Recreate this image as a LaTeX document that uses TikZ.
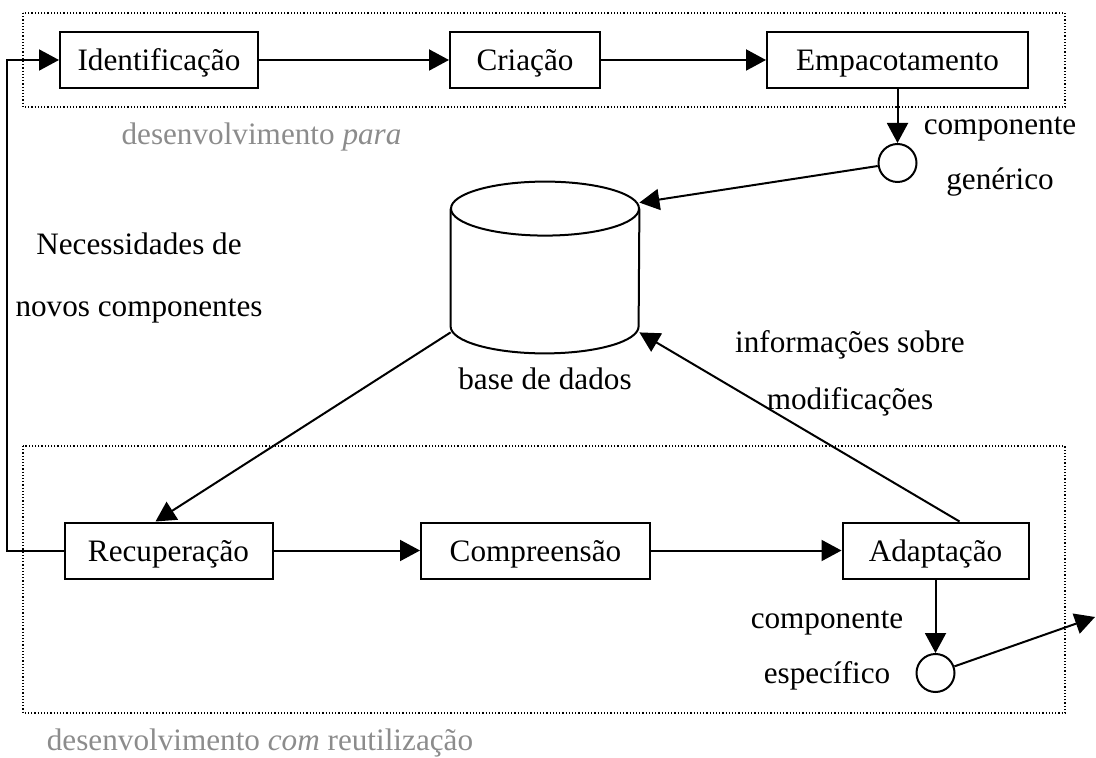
\documentclass[tikz,border=0pt]{standalone}
\usepackage{fontspec}
\setmainfont{Liberation Serif}
\usetikzlibrary{arrows.meta}

\begin{document}
\begin{tikzpicture}[x=0.5pt, y=-0.5pt,
        every node/.style={font=\fontsize{15.6pt}{18pt}\selectfont},
        box/.style={rectangle, draw, line width=1pt, minimum height=28pt, text height=10.5pt, text depth=0pt, inner sep=0pt},
        port/.style={circle, draw, line width=1pt, minimum size=19pt, inner sep=0pt},
        arrow/.style={-{Triangle[length=10pt,width=10.5pt]}, line width=1pt},
        frame/.style={densely dotted, line width=0.6pt},
        note/.style={anchor=base, inner sep=0pt},
        phase/.style={anchor=base, inner sep=0pt, text=gray!90}
    ]
        \useasboundingbox (0,0) rectangle (1096,758);

        % phases
        \draw[frame] (23,13) rectangle (1065,107);
        \draw[frame] (23,446) rectangle (1065,713);
        \node[phase] (para) at (261.5,145) {desenvolvimento \textit{para}};
        \node[phase] (com) at (260,750) {desenvolvimento \textit{com} reutilização};

        \node[box, minimum width=99pt] (ident) at (159,60) {Identificação};
        \node[box, minimum width=75pt] (criacao) at (525,60) {Criação};
        \node[box, minimum width=130.5pt] (empac) at (897.5,60) {Empacotamento};

        \node[box, minimum width=104pt] (recup) at (168.5,550.5) {Recuperação};
        \node[box, minimum width=114.5pt] (compr) at (535.5,550.5) {Compreensão};
        \node[box, minimum width=93pt] (adapt) at (935.5,550.5) {Adaptação};

        \node[port] (gen) at (897.5,163) {};
        \node[port] (esp) at (935.5,673) {};
        \coordinate (out) at (1095,617);

        % base de dados
        \node[minimum width=94pt, minimum height=58.5pt, inner sep=0pt] (db) at (545,267.5) {};
        \draw[line width=1pt, fill=white] (db.north west) -- (db.south west)
            arc[start angle=180, end angle=360, x radius=47pt, y radius=13.5pt] -- (db.north east);
        \draw[line width=1pt] (db.north) ellipse[x radius=47pt, y radius=13.5pt];
        \node[note] (dblabel) at (545,390) {base de dados};

        \node[note] (gen1) at (1000,135) {componente};
        \node[note] (gen2) at (1000,190) {genérico};
        \node[note] (esp1) at (827,628) {componente};
        \node[note] (esp2) at (827,683) {específico};
        \node[note] (need1) at (139,255) {Necessidades de};
        \node[note] (need2) at (139,317) {novos componentes};
        \node[note] (info1) at (850,353) {informações sobre};
        \node[note] (info2) at (850,410) {modificações};

        \draw[arrow] (ident) -- (criacao);
        \draw[arrow] (criacao) -- (empac);
        \draw[arrow] (empac) -- (gen);
        \draw[arrow] (gen) -- ([yshift=3pt]db.north east);
        \draw[arrow] ([yshift=-3pt]db.south west) -- ([xshift=-6.5pt]recup.north);
        \draw[arrow] (recup) -- (compr);
        \draw[arrow] (compr) -- (adapt);
        \draw[arrow] (adapt) -- (esp);
        \draw[arrow] (esp) -- (out);
        \draw[arrow] ([xshift=12pt]adapt.north) -- ([yshift=-3pt]db.south east);
        \draw[arrow] (recup.west) -- ++(-57,0) |- (ident.west);
    \end{tikzpicture}
\end{document}
